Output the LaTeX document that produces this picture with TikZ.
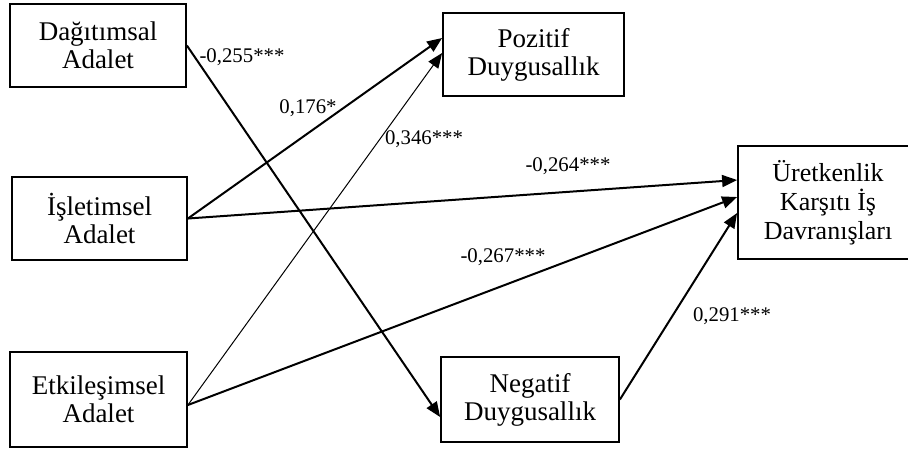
\documentclass[tikz,border=0pt]{standalone}
\usepackage{fontspec}
\setmainfont{Liberation Serif}
\usetikzlibrary{arrows.meta,positioning}

\tikzset{
  varbox/.style={draw, line width=0.9pt, align=center, inner sep=0pt,
    font=\fontsize{13.5}{14}\selectfont},
  coef/.style={inner sep=0pt, font=\fontsize{10.4}{12}\selectfont},
  effect/.style={line width=1pt, -{Triangle[length=7.5pt,width=6pt]}},
  weakeffect/.style={line width=0.5pt, -{Triangle[length=7.5pt,width=6pt]}}
}

\begin{document}
\begin{tikzpicture}[x=0.5pt, y=-0.5pt]
        \useasboundingbox (0,0) rectangle (908,450);

        % independent variables
        \node[varbox, minimum width=88pt, minimum height=41.5pt] (dag) at (98,45.5) {Dağıtımsal\\Adalet};
        \node[varbox, minimum width=87.5pt, minimum height=41.5pt] (isl) at (99.5,218.5) {İşletimsel\\Adalet};
        \node[varbox, minimum width=88.5pt, minimum height=47.5pt] (etk) at (98.5,399.5) {Etkileşimsel\\Adalet};

        % mediators and outcome
        \node[varbox, minimum width=90.5pt, minimum height=41.5pt] (poz) at (533.5,54.5) {Pozitif\\Duygusallık};
        \node[varbox, minimum width=89pt, minimum height=42.5pt] (neg) at (530,399.5) {Negatif\\Duygusallık};
        \node[varbox, minimum width=90pt, minimum height=56.5pt, font=\fontsize{13}{14.5}\selectfont] (ure) at (828,202.5) {Üretkenlik\\Karşıtı İş\\Davranışları};

        \draw[effect] (dag.east) -- ([yshift=-8.75pt]neg.west);
        \draw[effect] (isl.east) -- ([yshift=8.25pt]poz.west);
        \draw[weakeffect] ([yshift=-2.75pt]etk.east) -- ([yshift=0.75pt]poz.west);
        \draw[effect] (isl.east) -- ([yshift=11.25pt]ure.west);
        \draw[effect] ([yshift=-2.75pt]etk.east) -- ([yshift=2.75pt]ure.west);
        \draw[effect] (neg.east) -- ([yshift=-5.25pt]ure.west);

        % coefficients
        \node[coef] (c1) at (242,57) {-0,255***};
        \node[coef] (c2) at (308,108) {0,176*};
        \node[coef] (c3) at (424,139) {0,346***};
        \node[coef] (c4) at (568,166) {-0,264***};
        \node[coef] (c5) at (503,257) {-0,267***};
        \node[coef] (c6) at (732,316) {0,291***};
    \end{tikzpicture}
\end{document}
